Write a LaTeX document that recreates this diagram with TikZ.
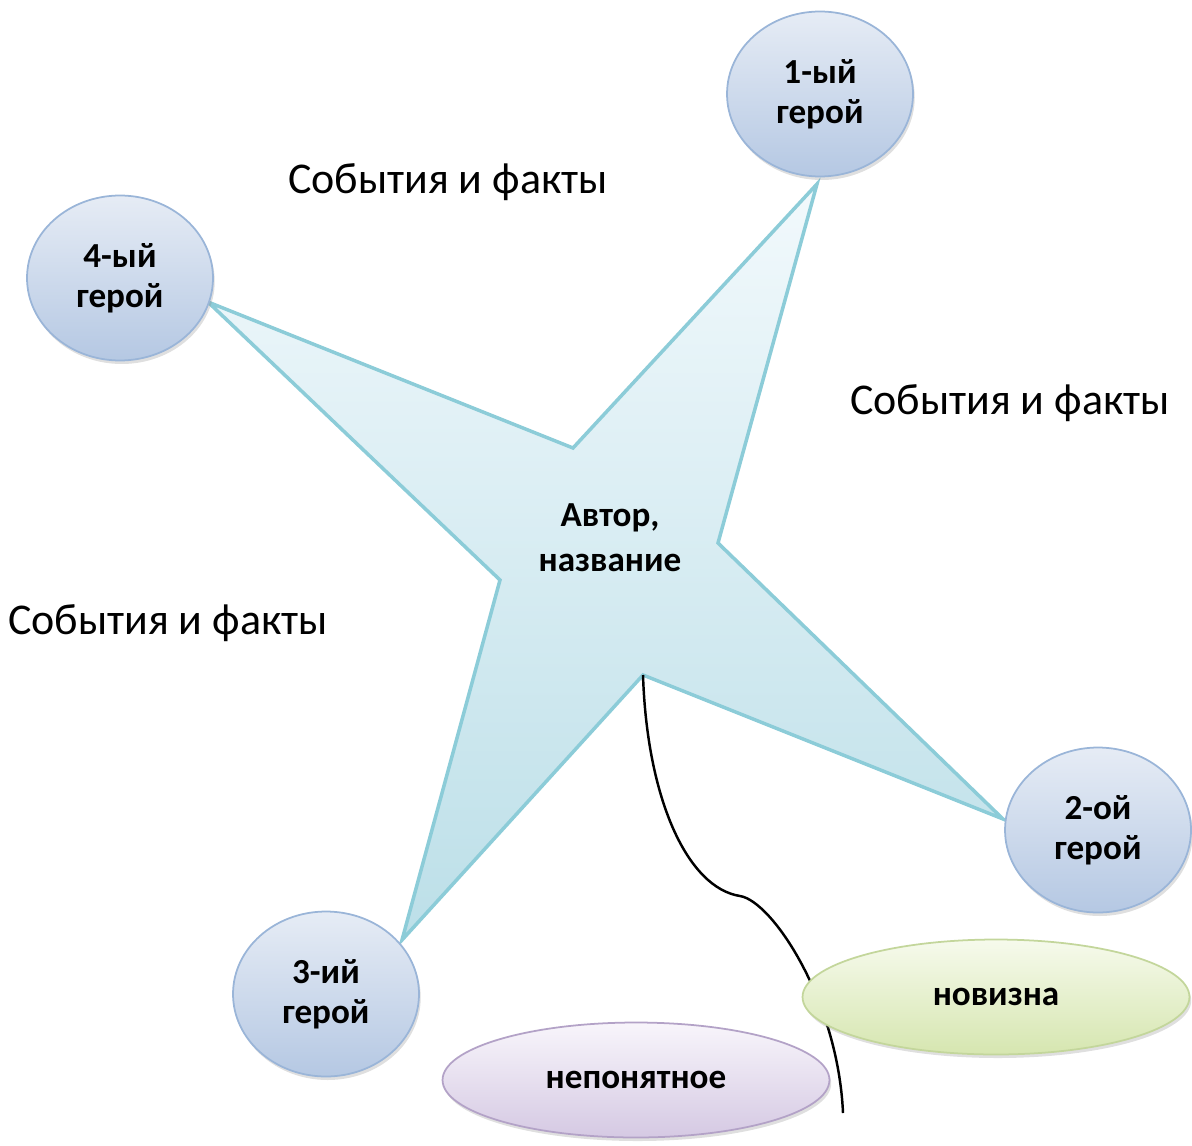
\documentclass[tikz,border=0pt]{standalone}
\usepackage{fontspec}
\setmainfont{Carlito}
\usetikzlibrary{shapes.geometric,shadows}

\definecolor{starline}{HTML}{8CCCD8}
\definecolor{startop}{HTML}{F2F9FC}
\definecolor{starbottom}{HTML}{BCDFE8}
\definecolor{heroline}{HTML}{9AB5D8}
\definecolor{herotop}{HTML}{E6ECF5}
\definecolor{herobottom}{HTML}{B5C8E3}

\tikzset{
  hero/.style={ellipse, draw=heroline, line width=1pt, top color=herotop,
    bottom color=herobottom, minimum width=3.72cm, minimum height=3.3cm,
    inner sep=0pt, align=center, font=\bfseries\fontsize{20}{23}\selectfont,
    drop shadow={opacity=0.25, shadow xshift=1pt, shadow yshift=-2pt}},
  note/.style={ellipse, line width=1pt, minimum width=7.74cm, minimum height=2.3cm,
    inner sep=0pt, font=\bfseries\fontsize{20}{23}\selectfont,
    drop shadow={opacity=0.25, shadow xshift=1pt, shadow yshift=-2pt}},
  facts/.style={font=\fontsize{25}{30}\selectfont}
}

\begin{document}
\begin{tikzpicture}[x=0.02cm,y=-0.02cm]
\useasboundingbox (0,0) rectangle (1192,1145);

\coordinate (tipA) at (817,184);
\coordinate (inA) at (573,448);
\coordinate (tipD) at (208,302);
\coordinate (inD) at (500,580);
\coordinate (tipC) at (402,940);
\coordinate (starbot) at (643,675);
\coordinate (tipB) at (1003,819);
\coordinate (inB) at (718,543);

\shade[draw=starline, line width=2pt, top color=startop, bottom color=starbottom]
  (tipA) -- (inA) -- (tipD) -- (inD) -- (tipC) -- (starbot) -- (tipB) -- (inB) -- cycle;
\node[font=\bfseries\fontsize{20}{25.5}\selectfont, align=center] (author) at (610,538) {Автор,\\название};

\coordinate (tail) at (843,1113);
\draw[line width=1.4pt] (starbot) .. controls (647,800) and (688,888) .. (740,896)
  .. controls (772,901) and (838,1000) .. (tail);

\node[hero] (hero1) at (820,94) {1-ый\\герой};
\node[hero] (hero2) at (1098,830) {2-ой\\герой};
\node[hero] (hero3) at (326,994) {3-ий\\герой};
\node[hero] (hero4) at (120,278) {4-ый\\герой};

\node[note, draw={rgb,255:red,195;green,214;blue,155}, top color={rgb,255:red,246;green,250;blue,236},
  bottom color={rgb,255:red,214;green,230;blue,176}] (novelty) at (996,997) {новизна};
\node[note, draw={rgb,255:red,179;green,162;blue,199}, top color={rgb,255:red,248;green,245;blue,251},
  bottom color={rgb,255:red,213;green,201;blue,227}] (unclear) at (636,1080) {непонятное};

\node[facts] (facts1) at (448,182) {События и факты};
\node[facts] (facts2) at (1010,403) {События и факты};
\node[facts] (facts3) at (168,623) {События и факты};
\end{tikzpicture}
\end{document}
